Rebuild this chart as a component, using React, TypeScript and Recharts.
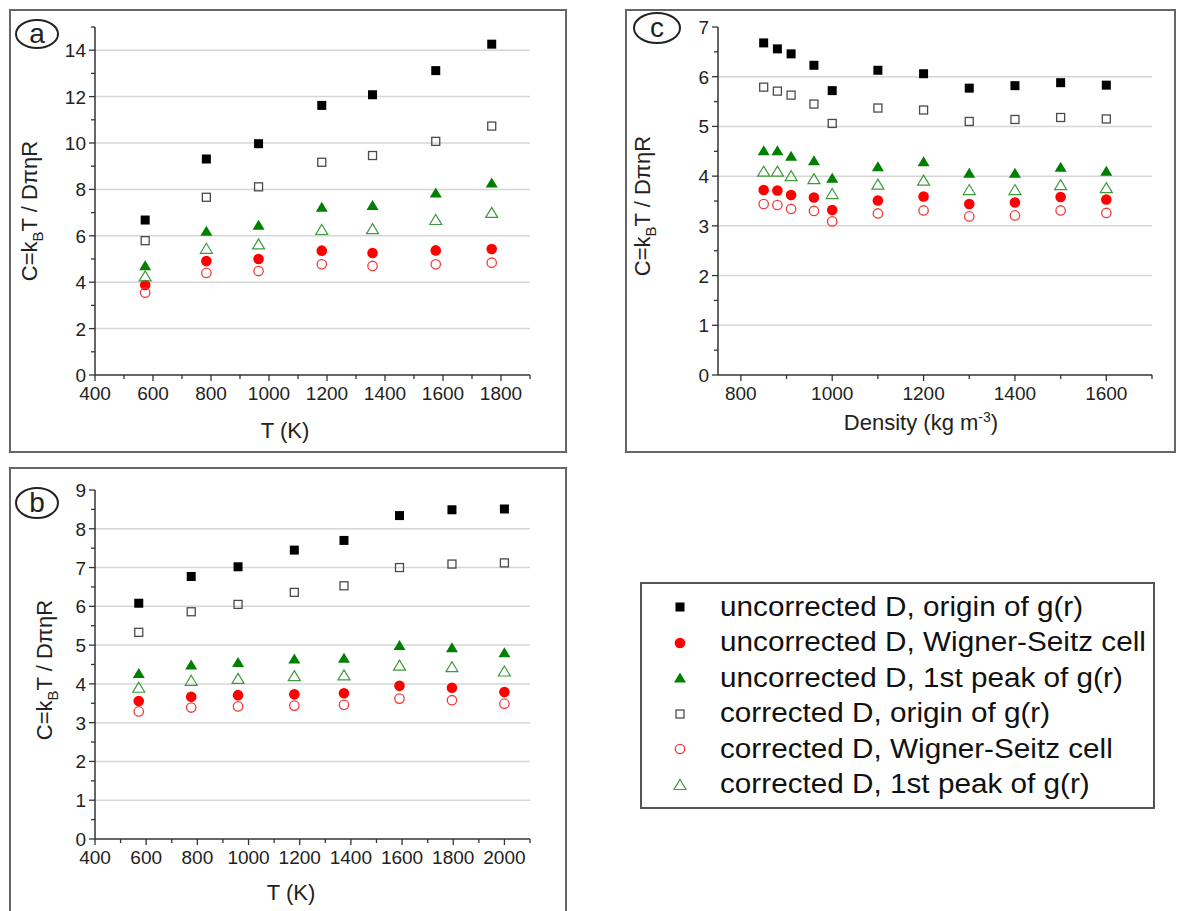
import React from "react";
import { ScatterChart, Scatter, XAxis, YAxis, ReferenceLine } from "recharts";

const FONT = '"Liberation Sans", Arial, sans-serif';

const seriesLabels = [
  "uncorrected D, origin of g(r)",
  "uncorrected D, Wigner-Seitz cell",
  "uncorrected D, 1st peak of g(r)",
  "corrected D, origin of g(r)",
  "corrected D, Wigner-Seitz cell",
  "corrected D, 1st peak of g(r)",
];

// panel a: C vs T
const tempA = [573, 784, 964, 1182, 1357, 1575, 1768];
const aUncOrigin = [6.68, 9.31, 9.97, 11.62, 12.08, 13.12, 14.26];
const aUncWS = [3.88, 4.91, 5.0, 5.36, 5.26, 5.37, 5.43];
const aUncPeak = [4.71, 6.2, 6.45, 7.23, 7.31, 7.85, 8.28];
const aCorOrigin = [5.79, 7.66, 8.11, 9.17, 9.46, 10.07, 10.73];
const aCorWS = [3.55, 4.4, 4.48, 4.77, 4.7, 4.77, 4.84];
const aCorPeak = [4.25, 5.44, 5.63, 6.25, 6.29, 6.68, 6.99];

// panel b: C vs T
const tempB = [571, 776, 959, 1179, 1373, 1590, 1795, 2000];
const bUncOrigin = [6.08, 6.77, 7.02, 7.45, 7.7, 8.34, 8.49, 8.51];
const bUncWS = [3.56, 3.67, 3.71, 3.73, 3.76, 3.95, 3.9, 3.79];
const bUncPeak = [4.27, 4.49, 4.55, 4.64, 4.66, 4.99, 4.93, 4.8];
const bCorOrigin = [5.33, 5.86, 6.05, 6.36, 6.53, 7.0, 7.09, 7.12];
const bCorWS = [3.29, 3.39, 3.42, 3.44, 3.46, 3.62, 3.58, 3.49];
const bCorPeak = [3.9, 4.08, 4.13, 4.2, 4.22, 4.47, 4.43, 4.32];

// panel c: C vs density
const densityC = [850, 880, 910, 960, 1000, 1100, 1200, 1300, 1400, 1500, 1600];
const cUncOrigin = [6.68, 6.56, 6.46, 6.23, 5.72, 6.13, 6.06, 5.77, 5.82, 5.88, 5.83];
const cUncWS = [3.72, 3.71, 3.62, 3.57, 3.32, 3.51, 3.59, 3.44, 3.47, 3.58, 3.53];
const cUncPeak = [4.51, 4.51, 4.4, 4.31, 3.96, 4.19, 4.29, 4.06, 4.06, 4.18, 4.1];
const cCorOrigin = [5.79, 5.71, 5.63, 5.45, 5.06, 5.37, 5.33, 5.1, 5.14, 5.18, 5.15];
const cCorWS = [3.44, 3.42, 3.34, 3.3, 3.09, 3.25, 3.31, 3.19, 3.21, 3.31, 3.26];
const cCorPeak = [4.09, 4.09, 4.0, 3.94, 3.64, 3.83, 3.91, 3.72, 3.72, 3.82, 3.76];

// axis ticks
const tMajorA = [400, 600, 800, 1000, 1200, 1400, 1600, 1800];
const tMinorA = [500, 700, 900, 1100, 1300, 1500, 1700, 1900];
const cMajorA = [0, 2, 4, 6, 8, 10, 12, 14];
const cMinorA = [1, 3, 5, 7, 9, 11, 13, 15];

const tMajorB = [400, 600, 800, 1000, 1200, 1400, 1600, 1800, 2000];
const tMinorB = [500, 700, 900, 1100, 1300, 1500, 1700, 1900, 2100];
const cMajorB = [0, 1, 2, 3, 4, 5, 6, 7, 8, 9];
const cMinorB = [0.5, 1.5, 2.5, 3.5, 4.5, 5.5, 6.5, 7.5, 8.5];

const dMajorC = [800, 1000, 1200, 1400, 1600];
const dMinorC = [900, 1100, 1300, 1500, 1700];
const cMajorC = [0, 1, 2, 3, 4, 5, 6, 7];
const cMinorC = [0.5, 1.5, 2.5, 3.5, 4.5, 5.5, 6.5];

type Kind = "square" | "circle" | "triangle";
type MarkStyle = { kind: Kind; filled: boolean; color: string };

const markStyles: MarkStyle[] = [
  { kind: "square", filled: true, color: "#000000" },
  { kind: "circle", filled: true, color: "#ff0000" },
  { kind: "triangle", filled: true, color: "#008000" },
  { kind: "square", filled: false, color: "#4a4a4a" },
  { kind: "circle", filled: false, color: "#f03c3c" },
  { kind: "triangle", filled: false, color: "#3d9a3d" },
];

function Marker({ st, cx, cy }: { st: MarkStyle; cx: number; cy: number }) {
  const fill = st.filled ? st.color : "none";
  const stroke = st.filled ? "none" : st.color;
  if (st.kind === "square") {
    const s = st.filled ? 9 : 8;
    return <rect x={cx - s / 2} y={cy - s / 2} width={s} height={s} fill={fill} stroke={stroke} strokeWidth={1.3} />;
  }
  if (st.kind === "circle") {
    return <circle cx={cx} cy={cy} r={st.filled ? 5.3 : 4.7} fill={fill} stroke={stroke} strokeWidth={1.3} />;
  }
  const h = 5.5;
  const pts = `${cx},${cy - h} ${cx + h + 0.5},${cy + h - 1} ${cx - h - 0.5},${cy + h - 1}`;
  return <polygon points={pts} fill={fill} stroke={stroke} strokeWidth={1.2} />;
}

const makeXTick = (major: number[]) => (p: any) => {
  const v = p.payload.value;
  const isMajor = major.includes(v);
  return (
    <g>
      <line x1={p.x} x2={p.x} y1={p.y} y2={p.y + (isMajor ? 6 : 4)} stroke="#333" strokeWidth={1.3} />
      {isMajor && (
        <text x={p.x} y={p.y + 25} textAnchor="middle" fontSize={19} fill="#222" fontFamily={FONT}>
          {v}
        </text>
      )}
    </g>
  );
};

const makeYTick = (major: number[]) => (p: any) => {
  const v = p.payload.value;
  const isMajor = major.includes(v);
  return (
    <g>
      <line x1={p.x - (isMajor ? 6 : 4)} x2={p.x} y1={p.y} y2={p.y} stroke="#333" strokeWidth={1.3} />
      {isMajor && (
        <text x={p.x - 9} y={p.y + 7} textAnchor="end" fontSize={19} fill="#222" fontFamily={FONT}>
          {v}
        </text>
      )}
    </g>
  );
};

type PanelProps = {
  letter: string;
  box: [number, number, number, number]; // left, top, width, height (page px)
  plot: [number, number, number, number]; // left, top, right, bottom (page px)
  xDomain: [number, number];
  xMajor: number[];
  xMinor: number[];
  yDomain: [number, number];
  yMajor: number[];
  yMinor: number[];
  grid: number[];
  xs: number[];
  series: number[][];
  xTitle: React.ReactNode;
  xTitlePos: [number, number];
  yTitlePos: [number, number];
  letterPos: [number, number, number, number]; // cx, cy, rx, ry
};

function Panel(pp: PanelProps) {
  const [bl, bt, bw, bh] = pp.box;
  const [pl, pt, pr, pb] = pp.plot;
  const xTicks = [...pp.xMajor, ...pp.xMinor].sort((a, b) => a - b);
  const yTicks = [...pp.yMajor, ...pp.yMinor].sort((a, b) => a - b);
  const [lx, ly, lrx, lry] = pp.letterPos;
  return (
    <div
      style={{
        position: "absolute",
        left: bl,
        top: bt,
        width: bw,
        height: bh,
        boxSizing: "border-box",
        border: "2px solid #666",
      }}
    >
      <div style={{ position: "absolute", left: -2, top: -2 }}>
        <ScatterChart
          width={bw}
          height={bh}
          margin={{ top: pt - bt, right: bl + bw - pr, bottom: 0, left: 0 }}
        >
          <XAxis
            type="number"
            dataKey="x"
            domain={pp.xDomain}
            ticks={xTicks}
            interval={0}
            tickSize={0}
            tickMargin={0}
            tickLine={false}
            tick={makeXTick(pp.xMajor)}
            height={bt + bh - pb}
            axisLine={{ stroke: "#333", strokeWidth: 1.5 }}
            allowDataOverflow
          />
          <YAxis
            type="number"
            dataKey="y"
            domain={pp.yDomain}
            ticks={yTicks}
            interval={0}
            tickSize={0}
            tickMargin={0}
            tickLine={false}
            tick={makeYTick(pp.yMajor)}
            width={pl - bl}
            axisLine={{ stroke: "#333", strokeWidth: 1.5 }}
            allowDataOverflow
          />
          {pp.grid.map((g) => (
            <ReferenceLine key={g} y={g} stroke="#d6d6d6" strokeWidth={1.5} />
          ))}
          {pp.series.map((ys, si) => (
            <Scatter
              key={si}
              name={seriesLabels[si]}
              data={pp.xs.map((x, i) => ({ x, y: ys[i] }))}
              isAnimationActive={false}
              shape={(s: any) => <Marker st={markStyles[si]} cx={s.cx} cy={s.cy} />}
            />
          ))}
        </ScatterChart>
      </div>
      <svg
        width={bw}
        height={bh}
        style={{ position: "absolute", left: -2, top: -2, pointerEvents: "none", overflow: "visible" }}
      >
        <ellipse cx={lx - bl} cy={ly - bt} rx={lrx} ry={lry} fill="none" stroke="#222" strokeWidth={2} />
        <text x={lx - bl} y={ly - bt + 9} textAnchor="middle" fontSize={28} fontFamily={FONT} fill="#222">
          {pp.letter}
        </text>
        <text
          x={pp.xTitlePos[0] - bl}
          y={pp.xTitlePos[1] - bt}
          textAnchor="middle"
          fontSize={22}
          fontFamily={FONT}
          fill="#222"
        >
          {pp.xTitle}
        </text>
        <text
          transform={`translate(${pp.yTitlePos[0] - bl},${pp.yTitlePos[1] - bt}) rotate(-90)`}
          textAnchor="middle"
          fontSize={22}
          fontFamily={FONT}
          fill="#222"
        >
          C=k
          <tspan dy={6} fontSize={15}>
            B
          </tspan>
          <tspan dy={-6}>T / DπηR</tspan>
        </text>
      </svg>
    </div>
  );
}

function LegendBox() {
  return (
    <div
      style={{
        position: "absolute",
        left: 640,
        top: 582,
        width: 515,
        height: 227,
        boxSizing: "border-box",
        border: "2px solid #555",
        background: "#fff",
      }}
    >
      {seriesLabels.map((label, i) => (
        <div
          key={label}
          style={{
            position: "absolute",
            left: 0,
            top: 6 + i * 35.5,
            height: 34,
            display: "flex",
            alignItems: "center",
          }}
        >
          <svg width={60} height={34} style={{ marginLeft: 16 }}>
            <Marker st={markStyles[i]} cx={22} cy={17} />
          </svg>
          <span
            style={{
              fontFamily: FONT,
              fontSize: 27,
              color: "#111",
              whiteSpace: "nowrap",
              display: "inline-block",
              transform: "scaleX(1.1)",
              transformOrigin: "left center",
              marginLeft: 2,
            }}
          >
            {label}
          </span>
        </div>
      ))}
    </div>
  );
}

export default function App() {
  return (
    <div
      style={{
        position: "absolute",
        left: 0,
        top: 0,
        width: 1178,
        height: 911,
        overflow: "hidden",
        background: "#fff",
        fontFamily: FONT,
      }}
    >
      <Panel
        letter="a"
        box={[9, 9, 558, 444]}
        plot={[95, 27, 530, 375]}
        xDomain={[400, 1900]}
        xMajor={tMajorA}
        xMinor={tMinorA}
        yDomain={[0, 15]}
        yMajor={cMajorA}
        yMinor={cMinorA}
        grid={[2, 4, 6, 8, 10, 12, 14]}
        xs={tempA}
        series={[aUncOrigin, aUncWS, aUncPeak, aCorOrigin, aCorWS, aCorPeak]}
        xTitle="T (K)"
        xTitlePos={[285, 438]}
        yTitlePos={[37, 211]}
        letterPos={[37, 34, 21, 14]}
      />
      <Panel
        letter="b"
        box={[9, 467, 558, 450]}
        plot={[95, 490, 530, 839]}
        xDomain={[400, 2100]}
        xMajor={tMajorB}
        xMinor={tMinorB}
        yDomain={[0, 9]}
        yMajor={cMajorB}
        yMinor={cMinorB}
        grid={[1, 2, 3, 4, 5, 6, 7, 8]}
        xs={tempB}
        series={[bUncOrigin, bUncWS, bUncPeak, bCorOrigin, bCorWS, bCorPeak]}
        xTitle="T (K)"
        xTitlePos={[291, 900]}
        yTitlePos={[52, 670]}
        letterPos={[37, 503, 21, 15]}
      />
      <Panel
        letter="c"
        box={[625, 9, 551, 444]}
        plot={[718, 27, 1152, 375]}
        xDomain={[750, 1700]}
        xMajor={dMajorC}
        xMinor={dMinorC}
        yDomain={[0, 7]}
        yMajor={cMajorC}
        yMinor={cMinorC}
        grid={[1, 2, 3, 4, 5, 6]}
        xs={densityC}
        series={[cUncOrigin, cUncWS, cUncPeak, cCorOrigin, cCorWS, cCorPeak]}
        xTitle={
          <>
            Density (kg m
            <tspan dy={-8} fontSize={14}>
              -3
            </tspan>
            <tspan dy={8}>)</tspan>
          </>
        }
        xTitlePos={[921, 430]}
        yTitlePos={[650, 206]}
        letterPos={[657, 28, 23, 15]}
      />
      <LegendBox />
    </div>
  );
}
